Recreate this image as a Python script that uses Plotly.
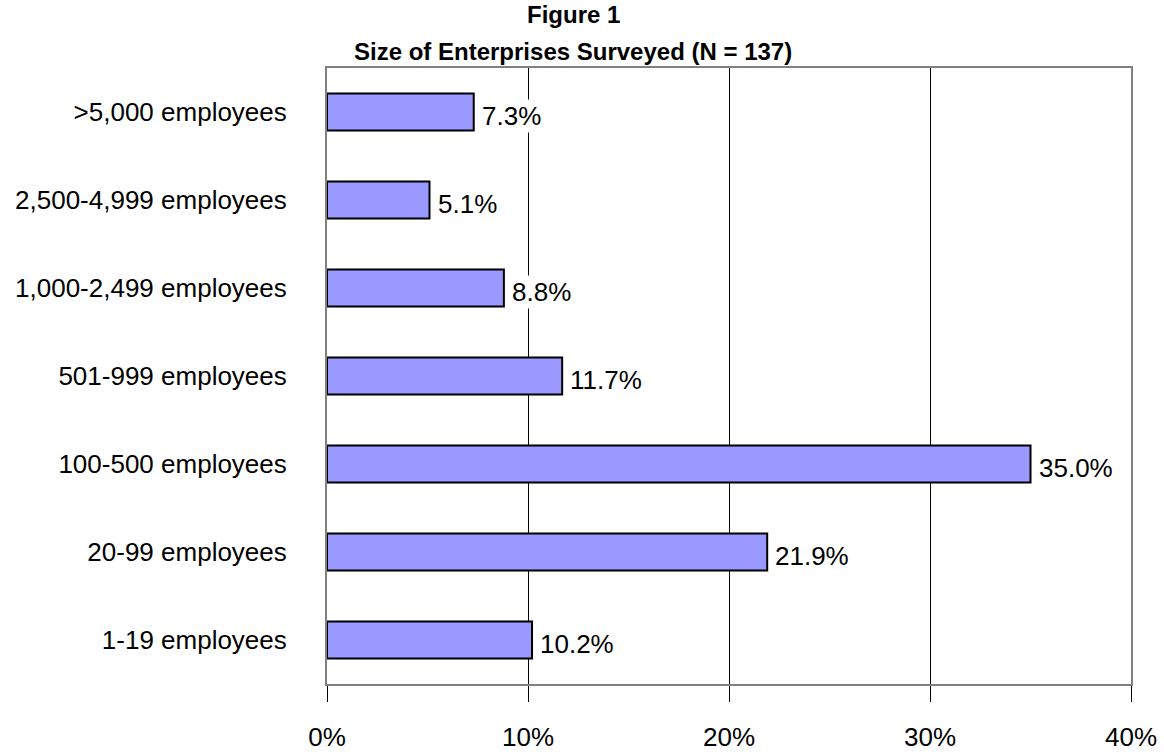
import plotly.graph_objects as go

categories = ["1-19 employees", "20-99 employees", "100-500 employees", "501-999 employees",
              "1,000-2,499 employees", "2,500-4,999 employees", ">5,000 employees"]
values = [10.2, 21.9, 35.0, 11.7, 8.8, 5.1, 7.3]
labels = ["10.2%", "21.9%", "35.0%", "11.7%", "8.8%", "5.1%", "7.3%"]
x_ticks = [0, 10, 20, 30, 40]
x_ticklabels = ["0%", "10%", "20%", "30%", "40%"]
title_lines = ["Figure 1", "Size of Enterprises Surveyed (N = 137)"]

FONT = "Liberation Sans, Arial, sans-serif"
W, H = 1164, 754
ML, MR, MT, MB = 327, 33, 68, 70
PW, PH = W - ML - MR, H - MT - MB

fig = go.Figure()
fig.add_trace(go.Bar(
    x=values, y=categories, orientation="h",
    marker=dict(color="#9999FF", line=dict(color="black", width=2)),
    width=0.42, hoverinfo="skip",
))

for v, c, t in zip(values, categories, labels):
    fig.add_annotation(x=v, y=c, text=t, showarrow=False, xanchor="left", yanchor="middle",
                       xshift=6, yshift=-4, bgcolor="white", borderpad=1,
                       font=dict(family=FONT, size=26, color="black"))

# titles (two lines, centred on the chart area)
title_cx = 573
for line, cy in zip(title_lines, [15, 52]):
    fig.add_annotation(xref="paper", yref="paper",
                       x=(title_cx - ML) / PW, y=(H - MB - cy) / PH,
                       text="<b>%s</b>" % line, showarrow=False,
                       xanchor="center", yanchor="middle",
                       font=dict(family=FONT, size=24, color="black"))

fig.update_layout(
    width=W, height=H,
    margin=dict(l=ML, r=MR, t=MT, b=MB),
    paper_bgcolor="white", plot_bgcolor="white",
    showlegend=False,
    font=dict(family=FONT, size=26, color="black"),
)
fig.update_xaxes(
    range=[0, 40], tickvals=x_ticks, ticktext=x_ticklabels,
    showgrid=True, gridcolor="black", gridwidth=1,
    showline=True, linecolor="#808080", linewidth=2, mirror=True,
    ticks="outside", ticklen=16, tickcolor="black", tickwidth=1,
    ticklabelstandoff=13, zeroline=False, automargin=False,
    tickfont=dict(family=FONT, size=26, color="black"),
)
fig.update_yaxes(
    categoryorder="array", categoryarray=categories,
    showgrid=False, showline=True, linecolor="#808080", linewidth=2, mirror=True,
    ticks="", ticklabelstandoff=33, automargin=False,
    tickfont=dict(family=FONT, size=26, color="black"),
)

fig.write_html("out.html")
